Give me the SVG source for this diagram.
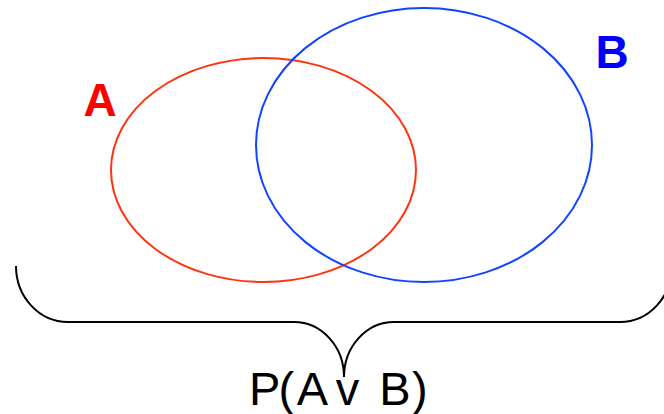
<svg xmlns="http://www.w3.org/2000/svg" width="664" height="414" viewBox="0 0 664 414">
<style>
.lbl{font-family:"Liberation Sans",Arial,sans-serif;font-weight:bold;font-size:46px;text-anchor:middle}
.cap{font-family:"Liberation Sans",Arial,sans-serif;font-size:47px;fill:#000}
</style>
<rect width="664" height="414" fill="#fff"/>
<g id="setA">
<ellipse cx="263.5" cy="170" rx="152.5" ry="112" fill="none" stroke="#ff3311" stroke-width="2"/>
<text class="lbl" x="100" y="116" fill="#ff0000">A</text>
</g>
<g id="setB">
<ellipse cx="424" cy="145" rx="168" ry="137" fill="none" stroke="#1144ff" stroke-width="2"/>
<text class="lbl" x="612" y="68" fill="#0000ff">B</text>
</g>
<g id="connectors">
<path d="M16,266 A52,56 0 0 0 68,322 L294,322 A50,55 0 0 1 344,377 A50,55 0 0 1 394,322 L620,322 A52,56 0 0 0 672,266" fill="none" stroke="#000" stroke-width="2"/>
</g>
<g id="caption">
<text class="cap" x="249 278.5 296.8 328 335.7 360 379.3 412" y="405">P(A v B)</text>
</g>
</svg>
